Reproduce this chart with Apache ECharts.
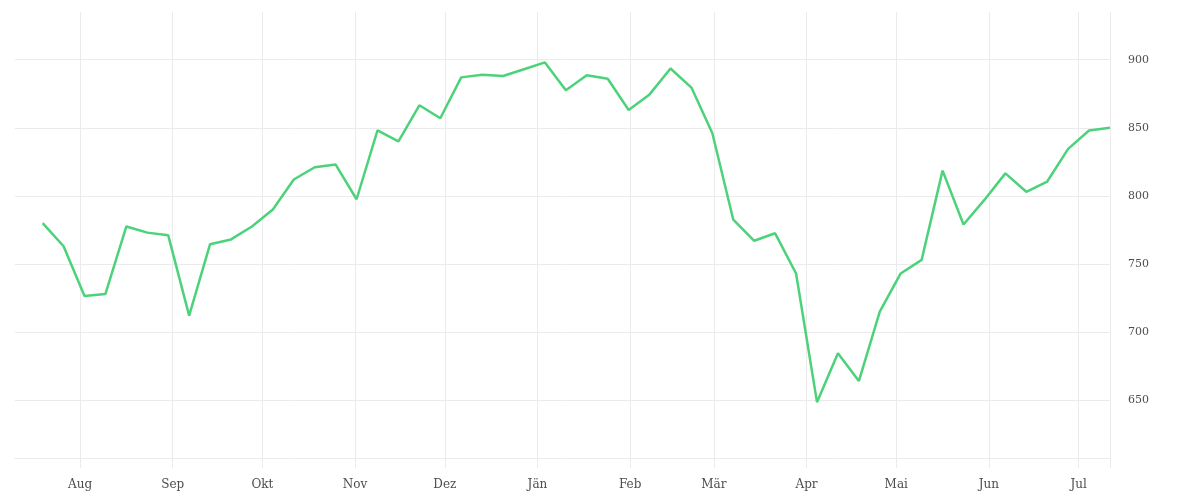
<!DOCTYPE html>
<html>
<head>
<meta charset="utf-8">
<script src="https://cdn.jsdelivr.net/npm/echarts@6/dist/echarts.min.js"></script>
<style>html,body{margin:0;padding:0;background:#fff}#c{width:1200px;height:500px}</style>
</head>
<body>
<div id="c"></div>
<script>
const dates = ['2018-07-19','2018-07-26','2018-08-02','2018-08-09','2018-08-16','2018-08-23','2018-08-30',
'2018-09-06','2018-09-13','2018-09-20','2018-09-27','2018-10-04','2018-10-11','2018-10-18','2018-10-25',
'2018-11-01','2018-11-08','2018-11-15','2018-11-22','2018-11-29','2018-12-06','2018-12-13','2018-12-20','2018-12-27',
'2019-01-03','2019-01-10','2019-01-17','2019-01-24','2019-01-31','2019-02-07','2019-02-14','2019-02-21','2019-02-28',
'2019-03-07','2019-03-14','2019-03-21','2019-03-28','2019-04-04','2019-04-11','2019-04-18','2019-04-25',
'2019-05-02','2019-05-09','2019-05-16','2019-05-23','2019-05-30','2019-06-06','2019-06-13','2019-06-20','2019-06-27',
'2019-07-04','2019-07-11'];
const values = [780, 763, 726.5, 728, 777.5, 773, 771, 712, 764.5, 768, 777.5, 790, 812, 821, 823, 797.5,
848, 840, 866.5, 857, 887, 889, 888, 893, 898, 877.5, 888.5, 886, 863, 874.5, 893.5, 879.5, 846,
782.5, 767, 772.5, 743, 648.5, 684.5, 664, 715, 743, 753, 818.5, 779, 797, 816.5, 803, 810.5, 834.5, 848, 850];
const monthStarts = ['2018-08-01','2018-09-01','2018-10-01','2018-11-01','2018-12-01','2019-01-01',
'2019-02-01','2019-03-01','2019-04-01','2019-05-01','2019-06-01','2019-07-01'];
const monthLabels = ['Aug','Sep','Okt','Nov','Dez','Jän','Feb','Mär','Apr','Mai','Jun','Jul'];
const yTicks = [650, 700, 750, 800, 850, 900];
const xMin = '2018-07-10', xMax = '2019-07-11';
const yMin = 607.5, yMax = 935;

const HOUR = 3600 * 1000;
const P = s => Date.UTC(+s.slice(0,4), +s.slice(5,7) - 1, +s.slice(8,10));
const monthTs = monthStarts.map(P);
const xMinTs = P(xMin) + 6 * HOUR, xMaxTs = P(xMax) + 12 * HOUR;
const gridColor = '#ebebeb';
const textColor = '#4d4d4d';
const font = 'DejaVu Serif';

const chart = echarts.init(document.getElementById('c'), null, {renderer: 'canvas'});
chart.setOption({
  animation: false,
  backgroundColor: '#fff',
  grid: {left: 15, right: 90, top: 12, bottom: 42, containLabel: false},
  xAxis: {
    type: 'value',
    min: xMinTs, max: xMaxTs,
    axisLine: {show: true, lineStyle: {color: gridColor, width: 1}},
    axisTick: {show: true, length: 10, lineStyle: {color: gridColor}, customValues: monthTs.concat([xMaxTs])},
    splitLine: {show: true, lineStyle: {color: gridColor, width: 1}},
    axisLabel: {
      customValues: monthTs,
      margin: 21,
      color: textColor, fontFamily: font, fontSize: 12,
      formatter: v => { const i = monthTs.indexOf(v); return i >= 0 ? monthLabels[i] : ''; }
    }
  },
  yAxis: {
    type: 'value', position: 'right',
    min: yMin, max: yMax,
    axisLine: {show: false},
    axisTick: {show: false, customValues: yTicks},
    splitLine: {show: true, lineStyle: {color: gridColor, width: 1}},
    axisLabel: {customValues: yTicks, margin: 18, color: textColor, fontFamily: font, fontSize: 11,
      padding: [4, 0, 0, 0]}
  },
  series: [{
    type: 'line',
    data: dates.map((d, i) => [P(d) + 12 * HOUR, values[i]]),
    showSymbol: false,
    lineStyle: {color: '#4cd27a', width: 2.5},
    itemStyle: {color: '#4cd27a'}
  }]
});
</script>
</body>
</html>
